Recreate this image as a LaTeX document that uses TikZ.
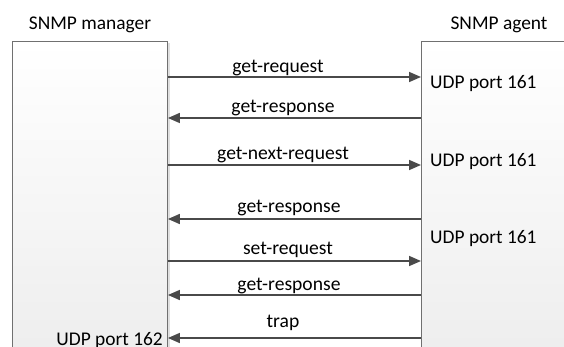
\documentclass[tikz,border=0pt]{standalone}
\usepackage{fontspec}
\setmainfont{Carlito}
\usetikzlibrary{arrows.meta}
\definecolor{linegray}{HTML}{4A4A4A}
\definecolor{boxgray}{HTML}{707070}
\tikzset{
  lane/.style={draw=boxgray, line width=0.9pt, top color=white, bottom color=black!7, anchor=north west, inner sep=0pt},
  msg/.style={draw=linegray, line width=1.6pt, -{Triangle[length=12pt,width=10pt]}},
  msglabel/.style={anchor=base, inner sep=0pt, font=\fontsize{19.6}{22}\selectfont},
  title/.style={anchor=base, inner sep=0pt, font=\fontsize{19.4}{22}\selectfont},
  port/.style={anchor=base west, inner sep=0pt, font=\fontsize{19.4}{22}\selectfont}
}
\begin{document}
\begin{tikzpicture}[x=1pt,y=-1pt]
\useasboundingbox (0,0) rectangle (564,347);
% shadows
\fill[black!12] (168,43) rectangle (170,360);
% lanes
\node[lane, minimum width=155pt, minimum height=320pt] (mgr) at (12,41) {};
\node[lane, minimum width=160pt, minimum height=320pt] (agt) at (421,41) {};
\node[title] (tm) at (90,30) {SNMP manager};
\node[title] (ta) at (499,30) {SNMP agent};
% coordinates
\foreach \n/\y in {a/77,b/118,c/165,d/219,e/261,f/295,g/338}{
  \coordinate (m\n) at (mgr.east |- 0,\y);
  \coordinate (s\n) at (agt.west |- 0,\y);
}
\draw[msg] (ma) -- (sa);
\draw[msg] (sb) -- (mb);
\draw[msg] (mc) -- (sc);
\draw[msg] (sd) -- (md);
\draw[msg] (me) -- (se);
\draw[msg] (sf) -- (mf);
\draw[msg] (sg) -- (mg);
\node[msglabel] (la) at (278,73) {get-request};
\node[msglabel] (lb) at (283,113) {get-response};
\node[msglabel] (lc) at (283,160) {get-next-request};
\node[msglabel] (ld) at (289,213) {get-response};
\node[msglabel] (le) at (288,254) {set-request};
\node[msglabel] (lf) at (289,290) {get-response};
\node[msglabel] (lg) at (283,327) {trap};
% ports
\node[port] (p1) at (430,89) {UDP port 161};
\node[port] (p2) at (430,167) {UDP port 161};
\node[port] (p3) at (430,243) {UDP port 161};
\node[port, anchor=base east] (p4) at (163,345) {UDP port 162};
\end{tikzpicture}
\end{document}
